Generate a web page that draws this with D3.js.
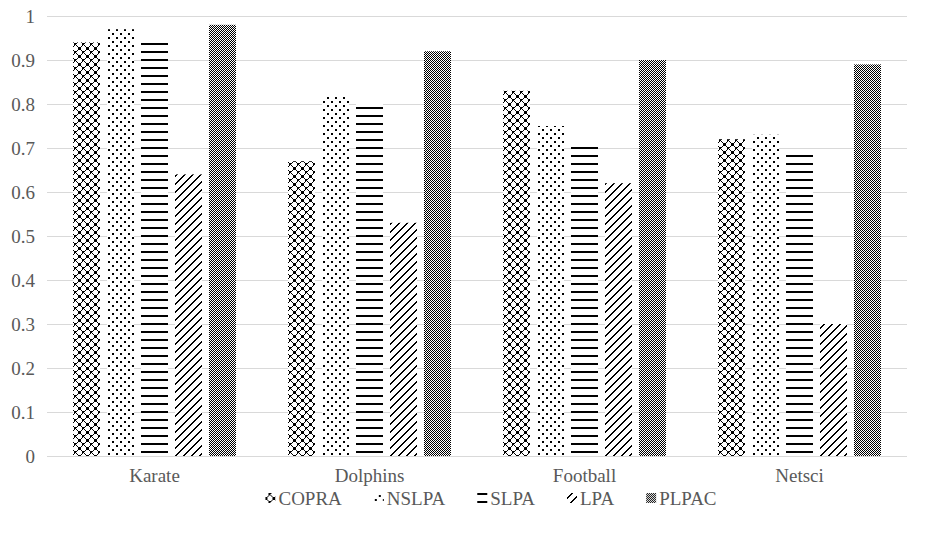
<!DOCTYPE html>
<html>
<head>
<meta charset="utf-8">
<script src="https://cdn.jsdelivr.net/npm/d3@7/dist/d3.min.js"></script>
<style>
  html, body { margin: 0; padding: 0; background: #fff; }
</style>
</head>
<body>
<svg id="chart" width="927" height="539"></svg>
<script>
// Benchmark networks and algorithms
const categories = ["Karate", "Dolphins", "Football", "Netsci"];
const seriesNames = ["COPRA", "NSLPA", "SLPA", "LPA", "PLPAC"];
const COPRA = [0.94, 0.67, 0.83, 0.72];
const NSLPA = [0.97, 0.82, 0.75, 0.73];
const SLPA  = [0.945, 0.80, 0.705, 0.687];
const LPA   = [0.64, 0.53, 0.62, 0.30];
const PLPAC = [0.98, 0.92, 0.90, 0.89];
const yTicks = [0, 0.1, 0.2, 0.3, 0.4, 0.5, 0.6, 0.7, 0.8, 0.9, 1];

const seriesValues = [COPRA, NSLPA, SLPA, LPA, PLPAC];
const FONT = "'Liberation Serif', 'Times New Roman', serif";
const TEXT_COLOR = "#595959";
const FONT_SIZE = 19;

const svg = d3.select("#chart");
const margin = { left: 47, right: 20, top: 16, bottom: 83 };
const W = 927, H = 539;
const plotW = W - margin.left - margin.right;
const plotH = H - margin.top - margin.bottom;

// Fill patterns, one per algorithm
const defs = svg.append("defs");
function pattern(id, size) {
  const p = defs.append("pattern")
    .attr("id", id)
    .attr("patternUnits", "userSpaceOnUse")
    .attr("width", size).attr("height", size);
  p.append("rect").attr("width", size).attr("height", size).attr("fill", "#fff");
  return p;
}
function px(p, x, y, w, h) {
  p.append("rect").attr("x", x).attr("y", y).attr("width", w || 1).attr("height", h || 1).attr("fill", "#000");
}
// COPRA: dotted diamond lattice
{
  const p = pattern("pat-copra", 8);
  for (let i = 0; i < 8; i++) {
    px(p, i, i);
    px(p, (8 - i) % 8, i);
  }
  px(p, 4, 3); px(p, 3, 4); px(p, 0, 1); px(p, 1, 0); px(p, 7, 0); px(p, 0, 7);
}
// NSLPA: sparse staggered dots
{
  const p = pattern("pat-nslpa", 8);
  px(p, 1, 1, 2, 2);
  px(p, 5, 5, 2, 2);
}
// SLPA: wide horizontal lines
{
  const p = pattern("pat-slpa", 8);
  px(p, 0, 3, 8, 2);
}
// LPA: upward diagonal lines
{
  const p = pattern("pat-lpa", 8);
  for (let i = 0; i < 8; i++) {
    px(p, (7 - i + 8) % 8, i, 1, 1);
    px(p, (8 - i) % 8, i, 1, 1);
  }
}
// PLPAC: fine checkerboard
{
  const p = pattern("pat-plpac", 2);
  px(p, 0, 0); px(p, 1, 1);
}
const fills = ["url(#pat-copra)", "url(#pat-nslpa)", "url(#pat-slpa)", "url(#pat-lpa)", "url(#pat-plpac)"];

const g = svg.append("g").attr("transform", `translate(${margin.left},${margin.top})`);

const x0 = d3.scaleBand().domain(categories).range([0, plotW]).paddingInner(0).paddingOuter(0);
const y = d3.scaleLinear().domain([0, 1]).range([plotH, 0]);

// Bars inside each category band
const groupW = x0.bandwidth() * 163 / 215;
const x1 = d3.scaleBand().domain(seriesNames)
  .range([(x0.bandwidth() - groupW) / 2, (x0.bandwidth() + groupW) / 2])
  .paddingInner(7 / 34).paddingOuter(0);

// Gridlines
g.append("g")
  .selectAll("line")
  .data(yTicks)
  .join("line")
  .attr("x1", 0).attr("x2", plotW)
  .attr("y1", d => Math.round(y(d)) + 0.5).attr("y2", d => Math.round(y(d)) + 0.5)
  .attr("stroke", "#d9d9d9").attr("stroke-width", 1);

// Y axis labels
const yAxis = d3.axisLeft(y).tickValues(yTicks).tickSize(0).tickPadding(12)
  .tickFormat(d => d3.format("~g")(d));
g.append("g").call(yAxis)
  .call(a => a.select(".domain").remove())
  .selectAll("text")
  .style("font-family", FONT).style("font-size", FONT_SIZE + "px")
  .attr("fill", TEXT_COLOR);

// Bars
const groups = g.append("g").selectAll("g")
  .data(categories)
  .join("g")
  .attr("transform", d => `translate(${x0(d)},0)`);

groups.selectAll("rect")
  .data((d, ci) => seriesNames.map((s, si) => ({ s, si, v: seriesValues[si][ci] })))
  .join("rect")
  .attr("x", d => x1(d.s))
  .attr("y", d => y(d.v))
  .attr("width", x1.bandwidth())
  .attr("height", d => y(0) - y(d.v))
  .attr("fill", d => fills[d.si]);

// Category axis
const xAxis = d3.axisBottom(x0).tickSize(0).tickPadding(13);
g.append("g").attr("transform", `translate(0,${plotH})`).call(xAxis)
  .call(a => a.select(".domain").remove())
  .selectAll("text")
  .style("font-family", FONT).style("font-size", FONT_SIZE + "px")
  .attr("fill", TEXT_COLOR);

// Legend: swatch + label, laid out left to right and centred
const legend = svg.append("g").attr("transform", "translate(0,498)");
const items = seriesNames.map((name, i) => {
  const it = legend.append("g");
  it.append("rect").attr("x", 0).attr("y", -5).attr("width", 10).attr("height", 10).attr("fill", fills[i]);
  const t = it.append("text").attr("x", 13).attr("y", 0).attr("dy", "0.35em")
    .style("font-family", FONT).style("font-size", FONT_SIZE + "px")
    .attr("fill", TEXT_COLOR).text(name);
  return { it, w: 13 + t.node().getComputedTextLength() };
});
const spacing = 32;
const total = d3.sum(items, d => d.w) + spacing * (items.length - 1);
let cx = 491 - total / 2;
items.forEach(d => {
  d.it.attr("transform", `translate(${cx},0)`);
  cx += d.w + spacing;
});
</script>
</body>
</html>
